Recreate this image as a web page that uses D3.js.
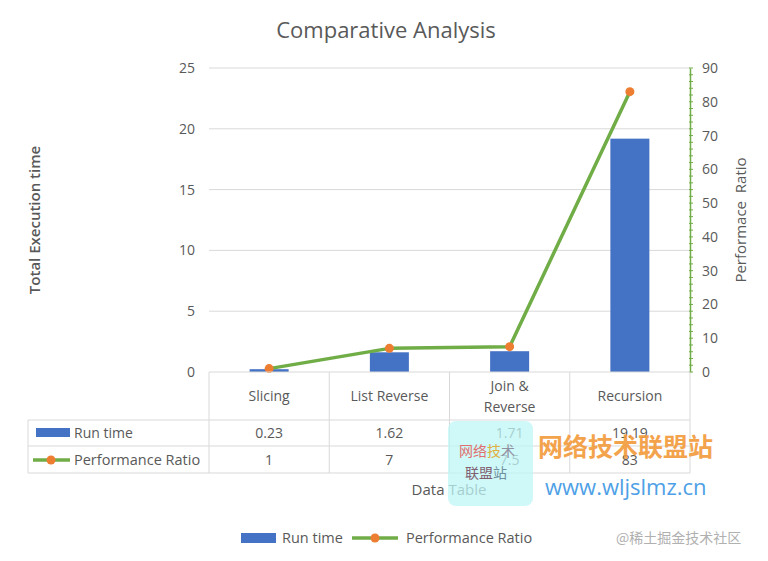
<!DOCTYPE html>
<html><head><meta charset="utf-8">
<script src="https://cdn.jsdelivr.net/npm/d3@7"></script>
<style>body{margin:0;background:#fff}svg{display:block}</style>
</head><body>
<script>
const categories = ["Slicing", "List Reverse", "Join & Reverse", "Recursion"];
const categoryLines = [["Slicing"], ["List Reverse"], ["Join &", "Reverse"], ["Recursion"]];
const runTime = [0.23, 1.62, 1.71, 19.19];
const perfRatio = [1, 7, 7.5, 83];
const runTimeLabels = ["0.23", "1.62", "1.71", "19.19"];
const perfLabels = ["1", "7", "7.5", "83"];
const leftTicks = [0, 5, 10, 15, 20, 25];
const rightTicks = [0, 10, 20, 30, 40, 50, 60, 70, 80, 90];

const W = 768, H = 561;
const font = "'Segoe UI', 'Open Sans', 'Noto Sans', sans-serif";
const gray = "#595959";
const svg = d3.select("body").append("svg").attr("width", W).attr("height", H)
  .style("font-family", font);

const x0 = 209, x1 = 690, yTop = 68, yBot = 372;
const x = d3.scaleBand().domain(categories).range([x0, x1]).paddingInner(0).paddingOuter(0);
const yL = d3.scaleLinear().domain([0, 25]).range([yBot, yTop]);
const yR = d3.scaleLinear().domain([0, 90]).range([yBot, yTop]);

// gridlines
svg.append("g").selectAll("line").data(leftTicks.filter(d => d > 0)).join("line")
  .attr("x1", x0).attr("x2", x1).attr("y1", d => yL(d)).attr("y2", d => yL(d))
  .attr("stroke", "#d9d9d9").attr("stroke-width", 1);

// left axis labels
const gL = svg.append("g").attr("transform", `translate(${x0},0)`)
  .call(d3.axisLeft(yL).tickValues(leftTicks).tickSize(0).tickPadding(14));
gL.select(".domain").remove();
gL.selectAll("text").attr("fill", gray).style("font-size", "14px").style("font-family", font);

// right axis
const gR = svg.append("g").attr("transform", `translate(${x1},0)`)
  .call(d3.axisRight(yR).tickValues(rightTicks).tickSize(0).tickPadding(12));
gR.select(".domain").attr("stroke", "#70AD47").attr("stroke-width", 1.5);
gR.selectAll("text").attr("fill", gray).style("font-size", "14px").style("font-family", font);
const minor = d3.range(0, 91, 2);
svg.append("g").selectAll("line").data(minor).join("line")
  .attr("x1", x1 - 1).attr("x2", x1 + 3).attr("y1", d => yR(d)).attr("y2", d => yR(d))
  .attr("stroke", "#70AD47").attr("stroke-width", 1);

// bars
const bw = 39;
svg.append("g").selectAll("rect").data(runTime).join("rect")
  .attr("x", (d, i) => x(categories[i]) + x.bandwidth() / 2 - bw / 2)
  .attr("width", bw)
  .attr("y", d => yL(d)).attr("height", d => yBot - yL(d))
  .attr("fill", "#4472C4");

// line
const cx = (d, i) => x(categories[i]) + x.bandwidth() / 2;
svg.append("path").datum(perfRatio)
  .attr("d", d3.line().x(cx).y(d => yR(d)))
  .attr("fill", "none").attr("stroke", "#70AD47").attr("stroke-width", 3.5)
  .attr("stroke-linejoin", "round");
svg.append("g").selectAll("circle").data(perfRatio).join("circle")
  .attr("cx", cx).attr("cy", d => yR(d)).attr("r", 4.5).attr("fill", "#ED7D31");

// data table
const tx0 = 28, row0 = 420, row1 = 446, row2 = 473;
const tg = svg.append("g").attr("stroke", "#d9d9d9").attr("stroke-width", 1);
[x0, ...categories.map(c => x(c) + x.bandwidth())].forEach(v =>
  tg.append("line").attr("x1", v).attr("x2", v).attr("y1", yBot).attr("y2", row2));
tg.append("line").attr("x1", tx0).attr("x2", tx0).attr("y1", row0).attr("y2", row2);
[row0, row1, row2].forEach(v =>
  tg.append("line").attr("x1", tx0).attr("x2", x1).attr("y1", v).attr("y2", v));
tg.append("line").attr("x1", x0).attr("x2", x1).attr("y1", yBot).attr("y2", yBot);

const txt = svg.append("g").attr("fill", gray).style("font-size", "14px");
categoryLines.forEach((lines, i) => {
  const c = cx(0, i);
  const n = lines.length;
  lines.forEach((l, j) => {
    txt.append("text").attr("x", c).attr("y", 396 + (j - (n - 1) / 2) * 21 + 5)
      .attr("text-anchor", "middle").text(l);
  });
});
runTimeLabels.forEach((l, i) => txt.append("text").attr("x", cx(0, i)).attr("y", 438)
  .attr("text-anchor", "middle").text(l));
perfLabels.forEach((l, i) => txt.append("text").attr("x", cx(0, i)).attr("y", 465)
  .attr("text-anchor", "middle").text(l));
// row headers
svg.append("rect").attr("x", 36).attr("y", 428).attr("width", 34).attr("height", 9).attr("fill", "#4472C4");
txt.append("text").attr("x", 74).attr("y", 438).text("Run time");
svg.append("line").attr("x1", 33).attr("x2", 70).attr("y1", 460).attr("y2", 460)
  .attr("stroke", "#70AD47").attr("stroke-width", 3.5);
svg.append("circle").attr("cx", 51).attr("cy", 460).attr("r", 4.5).attr("fill", "#ED7D31");
txt.append("text").attr("x", 74).attr("y", 465).style("font-size", "14.5px").text("Performance Ratio");

// titles
svg.append("text").attr("x", 386).attr("y", 38).attr("text-anchor", "middle")
  .attr("fill", gray).style("font-size", "22px").text("Comparative Analysis");
svg.append("text").attr("transform", "translate(40,220) rotate(-90)").attr("text-anchor", "middle")
  .attr("fill", gray).style("font-size", "15px").style("font-weight", "600").text("Total Execution time");
svg.append("text").attr("transform", "translate(746,220) rotate(-90)").attr("text-anchor", "middle")
  .attr("fill", gray).style("font-size", "15px").style("font-weight", "500").style("white-space", "pre")
  .attr("xml:space", "preserve").text("Performace  Ratio");
svg.append("text").attr("x", 449).attr("y", 495).attr("text-anchor", "middle")
  .attr("fill", gray).style("font-size", "15px").text("Data Table");

// legend
svg.append("rect").attr("x", 241).attr("y", 533).attr("width", 35).attr("height", 10).attr("fill", "#4472C4");
svg.append("text").attr("x", 282).attr("y", 543).attr("fill", gray).style("font-size", "14.5px").text("Run time");
svg.append("line").attr("x1", 352).attr("x2", 398).attr("y1", 538).attr("y2", 538)
  .attr("stroke", "#70AD47").attr("stroke-width", 3.5);
svg.append("circle").attr("cx", 375).attr("cy", 538).attr("r", 4.5).attr("fill", "#ED7D31");
svg.append("text").attr("x", 406).attr("y", 543).attr("fill", gray).style("font-size", "14.5px").text("Performance Ratio");

// watermarks
const cjk = "'Noto Sans CJK SC', sans-serif";
svg.append("rect").attr("x", 448).attr("y", 421).attr("width", 85).attr("height", 85).attr("rx", 8)
  .attr("fill", "#bff5f5").attr("opacity", 0.75);
svg.append("text").attr("x", 459).attr("y", 456).style("font-family", cjk).style("font-size", "14px")
  .attr("fill", "#e07070").text("网络");
svg.append("text").attr("x", 487).attr("y", 456).style("font-family", cjk).style("font-size", "14px")
  .attr("fill", "#e0b040").text("技");
svg.append("text").attr("x", 501).attr("y", 456).style("font-family", cjk).style("font-size", "14px")
  .attr("fill", "#9090a0").text("术");
svg.append("text").attr("x", 465).attr("y", 478).style("font-family", cjk).style("font-size", "14px")
  .attr("fill", "#806070").text("联盟");
svg.append("text").attr("x", 493).attr("y", 478).style("font-family", cjk).style("font-size", "14px")
  .attr("fill", "#7090a0").text("站");
svg.append("text").attr("x", 538).attr("y", 456).style("font-family", cjk).style("font-size", "25px")
  .style("font-weight", "700").attr("fill", "#f39a3a").attr("opacity", 0.9).text("网络技术联盟站");
svg.append("text").attr("x", 545).attr("y", 495).style("font-family", "'Open Sans', sans-serif").style("font-size", "22px")
  .attr("fill", "#4ea0e6").text("www.wljslmz.cn");
svg.append("text").attr("x", 616).attr("y", 543).style("font-family", cjk).style("font-size", "14px")
  .attr("fill", "#b0b0b0").text("@稀土掘金技术社区");
</script>
</body></html>
